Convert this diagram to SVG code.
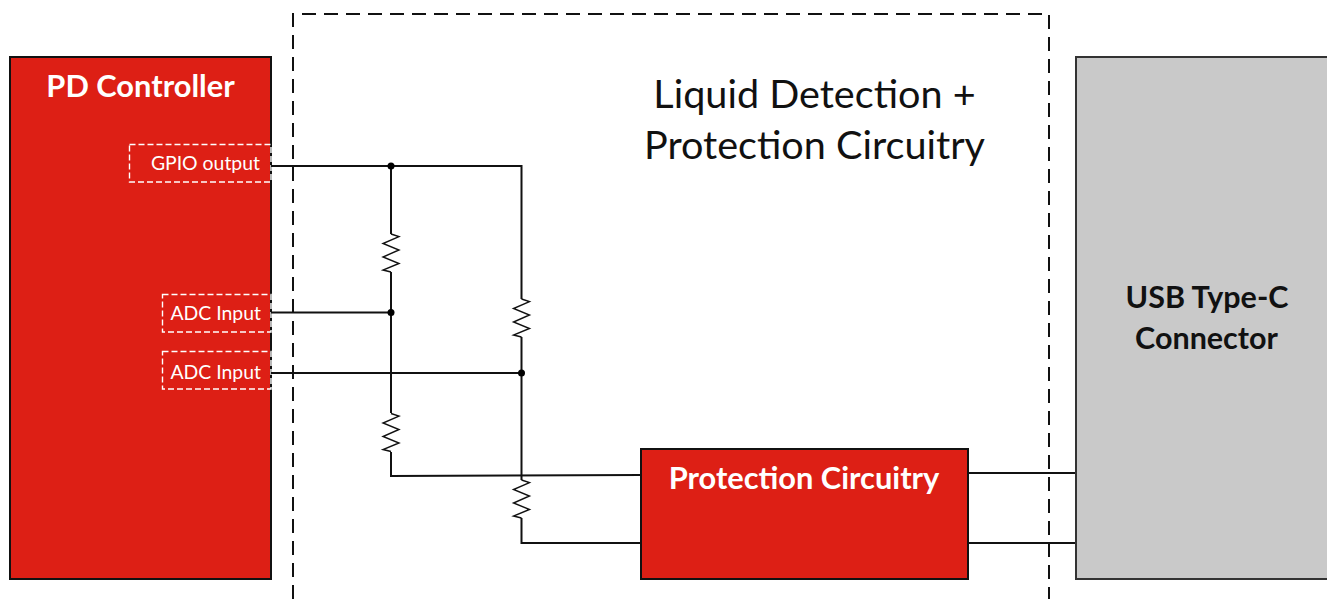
<svg xmlns="http://www.w3.org/2000/svg" width="1327" height="599" viewBox="0 0 1327 599">
<style>
text{font-family:"Lato","Open Sans","Liberation Sans",sans-serif}
.red{fill:#dd1f15;stroke:#111;stroke-width:2}
.grey{fill:#c9c9c9;stroke:#333;stroke-width:2}
.port{fill:none;stroke:#fff;stroke-width:1.4;stroke-dasharray:6 3}
.w{fill:none;stroke:#111;stroke-width:2}
.r{fill:none;stroke:#111;stroke-width:1.4;stroke-linejoin:miter}
.dot{fill:#000}
.hb{fill:#fff;font-weight:700;font-size:30.800px;text-anchor:middle}
.pl{fill:#fff;font-size:19.400px;text-anchor:end}
.big{fill:#111;font-size:39.600px;text-anchor:middle}
.usb{fill:#111;font-weight:700;font-size:30.500px;text-anchor:middle}
</style>
<defs>
<path id="res" class="r" d="M0 0L8 2.7L-8 9.500L8 16L-8 23L8 29.500L-8 36L0 38"/>
</defs>
<g id="boundary"><path d="M293 599V14H1049V599" fill="none" stroke="#111" stroke-width="2" stroke-dasharray="14 8"/></g>
<g id="pd-controller">
<rect class="red" x="10" y="57" width="261" height="522"/>
<text class="hb" x="140.500" y="97">PD Controller</text>
</g>
<g id="port-gpio"><rect class="port" x="129.500" y="144.500" width="141.500" height="37.500"/><text class="pl" x="260" y="170">GPIO output</text></g>
<g id="port-adc1"><rect class="port" x="162.500" y="294.500" width="108.500" height="37.500"/><text class="pl" x="261" y="320">ADC Input</text></g>
<g id="port-adc2"><rect class="port" x="162.500" y="351.500" width="108.500" height="37.500"/><text class="pl" x="261" y="379">ADC Input</text></g>
<g id="title">
<text class="big" x="814.500" y="107.500">Liquid Detection +</text>
<text class="big" x="814.500" y="159">Protection Circuitry</text>
</g>
<g id="connectors">
<path class="w" d="M271 166H521.500V299"/>
<path class="w" d="M391 166V234"/>
<path class="w" d="M391 272V413"/>
<path class="w" d="M271 312.500H391"/>
<path class="w" d="M271 373H521.500"/>
<path class="w" d="M521.500 337V480"/>
<path class="w" d="M391 452V476L641 475"/>
<path class="w" d="M521.500 518V543H641"/>
<path class="w" d="M968 473H1076"/>
<path class="w" d="M968 543H1076"/>
<use href="#res" x="391" y="234"/>
<use href="#res" x="391" y="413.500"/>
<use href="#res" x="521.500" y="299"/>
<use href="#res" x="521.500" y="480"/>
<circle class="dot" cx="391" cy="166" r="3.500"/>
<circle class="dot" cx="391" cy="312.500" r="3.500"/>
<circle class="dot" cx="521.500" cy="373" r="3.500"/>
</g>
<g id="protection-circuitry">
<rect class="red" x="641" y="449" width="327" height="130"/>
<text class="hb" x="804" y="489">Protection Circuitry</text>
</g>
<g id="usb-connector">
<rect class="grey" x="1076" y="57" width="262" height="522"/>
<text class="usb" x="1207" y="308">USB Type-C</text>
<text class="usb" x="1206.500" y="349">Connector</text>
</g>
</svg>
